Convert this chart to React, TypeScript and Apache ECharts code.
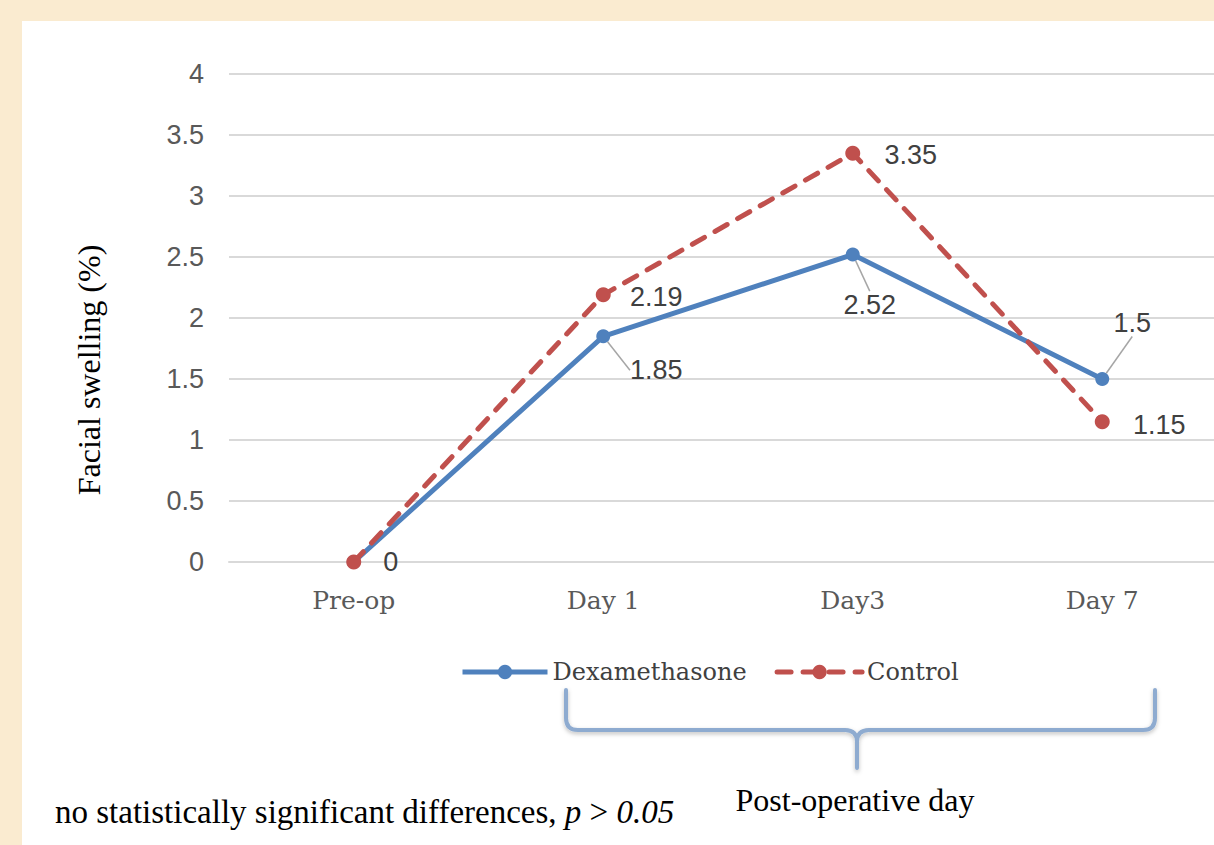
import React, { useEffect, useRef } from "react";
import * as echarts from "echarts";

const categories = ["Pre-op", "Day 1", "Day3", "Day 7"];
const dexamethasone = [0, 1.85, 2.52, 1.5];
const control = [0, 2.19, 3.35, 1.15];
const yMin = 0;
const yMax = 4;
const yInterval = 0.5;

// label layout offsets (pixels) per point: [dx, dy]
const dexaLabelOffsets = [[37, 0], [53, 34], [17, 50], [30, -56]];
const ctrlLabelOffsets = [[0, 0], [53, 2], [58, 2], [57, 3]];

const bracePath =
  "M544 669 L544 697 Q544 709 556 709 L823 709 Q835 709 835 721 L835 747 M835 721 Q835 709 847 709 L1121 709 Q1133 709 1133 697 L1133 669";
echarts.graphic.registerShape("brace", echarts.graphic.extendPath(bracePath, {}));

const BLUE = "#4F81BD";
const RED = "#C0504D";
const NUM_FONT = "'Liberation Sans Narrow', 'Liberation Sans', sans-serif";
const SERIF_W = "'DejaVu Serif', serif";
const TIMES = "'Liberation Serif', 'Times New Roman', serif";

export default function App() {
  const ref = useRef<HTMLDivElement>(null);
  useEffect(() => {
    if (!ref.current) return;
    const chart = echarts.init(ref.current, undefined, { renderer: "svg" });
    const labelBase = {
      show: true,
      position: "inside",
      align: "center",
      verticalAlign: "middle",
      color: "#404040",
      fontSize: 27,
      fontFamily: NUM_FONT,
    };
    chart.setOption({
      animation: false,
      backgroundColor: "transparent",
      grid: { left: 207, right: 25, top: 53, bottom: 283, containLabel: false },
      legend: {
        left: 433,
        top: 634,
        itemWidth: 85,
        itemHeight: 18,
        itemGap: 28,
        textStyle: { fontFamily: SERIF_W, fontSize: 24, color: "#404040" },
        data: [
          { name: "Dexamethasone", lineStyle: { width: 5 } },
          { name: "Control", lineStyle: { width: 5 } },
        ],
      },
      xAxis: {
        type: "category",
        data: categories,
        boundaryGap: true,
        axisLine: { show: true, lineStyle: { color: "#D9D9D9", width: 2 } },
        axisTick: { show: false },
        axisLabel: { margin: 26, fontFamily: SERIF_W, fontSize: 25, color: "#595959" },
      },
      yAxis: {
        type: "value",
        min: yMin,
        max: yMax,
        interval: yInterval,
        name: "Facial swelling (%)",
        nameLocation: "middle",
        nameRotate: 90,
        nameGap: 124,
        nameTextStyle: {
          fontFamily: TIMES,
          fontSize: 32,
          color: "#000",
          padding: [0, 104, 0, 0],
        },
        axisLine: { show: false },
        axisTick: { show: false },
        axisLabel: { margin: 25, fontFamily: NUM_FONT, fontSize: 27, color: "#595959" },
        splitLine: { lineStyle: { color: "#D9D9D9", width: 2 } },
      },
      series: [
        {
          name: "Dexamethasone",
          type: "line",
          data: dexamethasone.map((v, i) => ({
            value: v,
            labelLine: { show: i !== 0 },
          })),
          symbol: "circle",
          symbolSize: 14,
          lineStyle: { color: BLUE, width: 5 },
          itemStyle: { color: BLUE },
          label: labelBase,
          labelLine: { show: true, lineStyle: { color: "#A6A6A6", width: 1.5 } },
          labelLayout: (p: any) => ({
            dx: dexaLabelOffsets[p.dataIndex][0],
            dy: dexaLabelOffsets[p.dataIndex][1],
          }),
          z: 2,
        },
        {
          name: "Control",
          type: "line",
          data: control.map((v, i) => ({
            value: v,
            label: { show: i !== 0 },
          })),
          symbol: "circle",
          symbolSize: 15,
          lineStyle: { color: RED, width: 5, type: [14, 12], cap: "round" },
          itemStyle: { color: RED },
          label: labelBase,
          labelLayout: (p: any) => ({
            dx: ctrlLabelOffsets[p.dataIndex][0],
            dy: ctrlLabelOffsets[p.dataIndex][1],
          }),
          z: 3,
        },
      ],
      graphic: [
        {
          type: "brace",
          x: 0,
          y: 0,
          style: {
            fill: "none",
            stroke: "#8EABD0",
            lineWidth: 4,
            lineCap: "round",
            lineJoin: "round",
            shadowBlur: 4,
            shadowColor: "rgba(0,0,0,0.25)",
            shadowOffsetY: 2,
          },
        },
        {
          type: "text",
          x: 833,
          y: 779,
          style: {
            text: "Post-operative day",
            font: `32px ${TIMES}`,
            fill: "#000",
            align: "center",
            verticalAlign: "middle",
          },
        },
        {
          type: "text",
          x: 33,
          y: 791,
          style: {
            text: "{n|no statistically significant differences, }{i|p}{n| > }{i|0.05}",
            verticalAlign: "middle",
            rich: {
              n: { fontFamily: TIMES, fontSize: 33, fill: "#000", color: "#000" },
              i: { fontFamily: TIMES, fontSize: 33, fontStyle: "italic", fill: "#000", color: "#000" },
            },
          },
        },
      ],
    });
    return () => chart.dispose();
  }, []);

  return (
    <div
      style={{
        position: "absolute",
        left: 0,
        top: 0,
        width: 1214,
        height: 845,
        overflow: "hidden",
        background: "#FAEBD0",
      }}
    >
      <div
        style={{
          position: "absolute",
          left: 22,
          top: 21,
          width: 1230,
          height: 824,
          background: "#FFFFFF",
        }}
      >
        <div ref={ref} style={{ width: 1230, height: 824 }} />
      </div>
    </div>
  );
}
